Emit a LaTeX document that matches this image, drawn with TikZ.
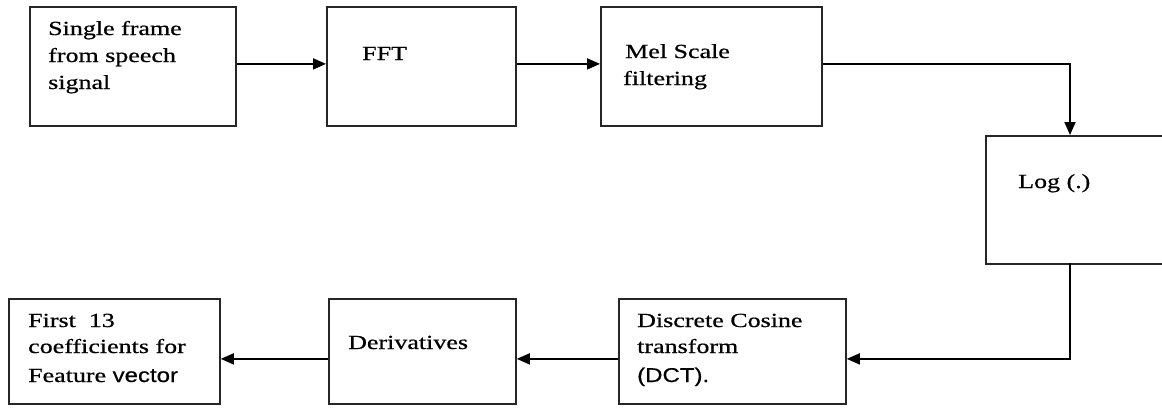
\documentclass[tikz,border=0pt]{standalone}
\usepackage{fontspec}
\setmainfont{Liberation Serif}
\newfontfamily\serifw[FakeStretch=1.3,FakeBold=0.7]{Liberation Serif}
\newfontfamily\sansw[FakeStretch=1.2,FakeBold=0.5]{Liberation Sans}
\usetikzlibrary{arrows.meta}
\begin{document}
\begin{tikzpicture}[x=1pt,y=-1pt,
  box/.style={draw=black!85, line width=1.8pt, rectangle, inner sep=0pt, anchor=north west},
  lbl/.style={anchor=base west, inner sep=0pt, font=\serifw\fontsize{20}{27}\selectfont, text=black},
  arr/.style={line width=1.7pt, -{Triangle[length=13pt,width=11pt]}}]
\useasboundingbox (0,0) rectangle (1162,407);
% boxes
\node[box, minimum width=206pt, minimum height=119pt] (b1) at (29,6) {};
\node[box, minimum width=189pt, minimum height=119pt] (fft) at (326,6) {};
\node[box, minimum width=221pt, minimum height=119pt] (mel) at (600,6) {};
\node[box, minimum width=185pt, minimum height=128pt] (log) at (985,135) {};
\node[box, minimum width=227pt, minimum height=105pt] (dct) at (618,298) {};
\node[box, minimum width=187pt, minimum height=105pt] (der) at (328,298) {};
\node[box, minimum width=211pt, minimum height=105pt] (first) at (8,298) {};
% labels
\node[lbl] (t1a) at (48,35) {Single frame};
\node[lbl] (t1b) at (48,62) {from speech};
\node[lbl] (t1c) at (48,89) {signal};
\node[lbl] (t2) at (362,60) {FFT};
\node[lbl] (t3a) at (625,58) {Mel Scale};
\node[lbl] (t3b) at (623,85) {filtering};
\node[lbl] (t4) at (1018,188) {Log (.)};
\node[lbl] (t5a) at (637,327) {Discrete Cosine};
\node[lbl] (t5b) at (637,353) {transform};
\node[lbl] (t5c) at (637,382) {\sansw (DCT).};
\node[lbl] (t6) at (348,349) {Derivatives};
\node[lbl] (t7a) at (28,327) {First\ \ 13};
\node[lbl] (t7b) at (28,353) {coefficients for};
\node[lbl] (t7c) at (28,382) {Feature {\sansw vector}};
% connectors
\coordinate (lin) at (1070,135);
\coordinate (lout) at (1070,263);
\draw[arr] ([yshift=2.5pt]b1.east) -- ([yshift=2.5pt]fft.west);
\draw[arr] ([yshift=2.5pt]fft.east) -- ([yshift=2.5pt]mel.west);
\draw[arr] ([yshift=2.5pt]mel.east) -| (lin);
\draw[arr] (lout) |- ([yshift=-7.5pt]dct.east);
\draw[arr] ([yshift=-7.5pt]dct.west) -- ([yshift=-7.5pt]der.east);
\draw[arr] ([yshift=-7.5pt]der.west) -- ([yshift=-7.5pt]first.east);
\end{tikzpicture}
\end{document}
